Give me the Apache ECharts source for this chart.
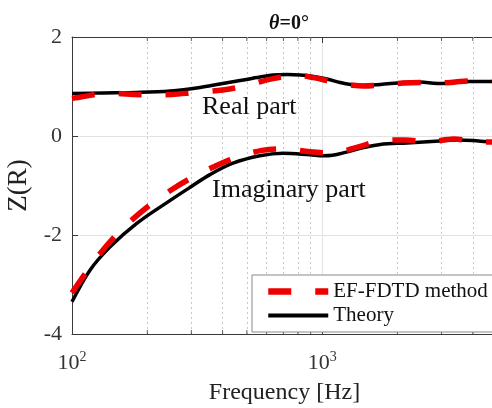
<!DOCTYPE html>
<html>
<head>
<meta charset="utf-8">
<style>
  html, body { margin: 0; padding: 0; background: #fff; }
  #chart { width: 492px; height: 408px; }
</style>
<script src="https://cdn.jsdelivr.net/npm/echarts@6/dist/echarts.min.js"></script>
</head>
<body>
<div id="chart"></div>
<script>
// Impedance Z(R) versus frequency: simulated (EF-FDTD) and theoretical curves
const FONT = '"Liberation Serif", "Times New Roman", serif';

// Real part, theory
const freqRealTheory = [100, 133, 182, 247, 325, 390, 470, 564, 636, 724, 817, 923, 1047, 1180, 1300, 1459, 1706, 2109, 2466, 2884, 3400, 3802, 4300, 5000];
const realTheory     = [0.86, 0.87, 0.88, 0.91, 0.98, 1.05, 1.12, 1.19, 1.23, 1.24, 1.23, 1.20, 1.15, 1.08, 1.04, 1.02, 1.04, 1.08, 1.09, 1.06, 1.08, 1.10, 1.10, 1.10];

// Real part, EF-FDTD
const freqRealFdtd = [100, 112, 125, 150, 175, 200, 250, 300, 350, 400, 470, 550, 636, 724, 817, 923, 1047, 1180, 1300, 1459, 1706, 2109, 2466, 2884, 3400, 3802, 4300, 5000];
const realFdtd     = [0.76, 0.80, 0.84, 0.86, 0.84, 0.83, 0.84, 0.87, 0.90, 0.93, 0.99, 1.08, 1.16, 1.21, 1.22, 1.18, 1.12, 1.06, 1.03, 1.01, 1.03, 1.07, 1.08, 1.07, 1.09, 1.11, 1.10, 1.10];

// Imaginary part, theory
const freqImagTheory = [100, 118, 142, 182, 247, 300, 356, 440, 564, 698, 894, 1009, 1100, 1240, 1450, 1706, 2180, 2951, 3467, 4000, 4786, 5000];
const imagTheory     = [-3.35, -2.71, -2.24, -1.76, -1.30, -1.02, -0.78, -0.55, -0.40, -0.35, -0.38, -0.40, -0.39, -0.33, -0.24, -0.17, -0.14, -0.10, -0.08, -0.09, -0.12, -0.12];

// Imaginary part, EF-FDTD
const freqImagFdtd = [100, 113, 127, 149, 175, 209, 251, 302, 373, 449, 575, 698, 894, 1096, 1396, 1706, 2148, 2655, 3357, 4169, 5000];
const imagFdtd     = [-3.17, -2.78, -2.43, -2.02, -1.68, -1.36, -1.08, -0.84, -0.61, -0.44, -0.29, -0.26, -0.32, -0.34, -0.22, -0.10, -0.08, -0.12, -0.06, -0.12, -0.12];

// Axis setup
const freqMin = 100, freqMax = 5000;
const zMin = -4, zMax = 2, zStep = 2;
const minorFreqs = [200, 300, 400, 500, 600, 700, 800, 900, 2000, 3000, 4000];

const legendFdtd = 'EF-FDTD method';
const legendTheory = 'Theory';

const pairs = (xs, ys) => xs.map((x, i) => [x, ys[i]]);

const RED = '#ee0000';
const BLACK = '#000000';
const AXIS = '#3a3a3a';

const fdtdLine = { color: RED, width: 5.5, type: [23, 24], cap: 'butt' };
const theoryLine = { color: BLACK, width: 3.5 };

const chart = echarts.init(document.getElementById('chart'), null, { renderer: 'canvas' });

// decade labels drawn as 10 with a raised exponent
const supFormatter = v => {
  const e = Math.log10(v);
  if (Math.abs(e - Math.round(e)) > 1e-6) return '';
  return '{b|10}{s|' + Math.round(e) + '}';
};

chart.setOption({
  animation: false,
  backgroundColor: '#fff',
  title: {
    text: '{i|θ}{b|=0°}',
    left: 284, top: 9, textAlign: 'center',
    textStyle: {
      rich: {
        i: { fontFamily: FONT, fontSize: 20, fontWeight: 'bold', fontStyle: 'italic', color: '#111' },
        b: { fontFamily: FONT, fontSize: 20, fontWeight: 'bold', color: '#111' }
      }
    }
  },
  grid: { left: 72, right: -5, top: 37, bottom: 74, containLabel: false, outerBoundsMode: 'none' },
  legend: {
    data: [
      { name: legendFdtd, lineStyle: { width: 6.5 } },
      { name: legendTheory, lineStyle: { width: 4 } }
    ],
    orient: 'vertical',
    left: 252, top: 275, z: 20,
    itemWidth: 60, itemHeight: 21, itemGap: 3,
    padding: [6, 40, 6, 13],
    backgroundColor: '#fff',
    borderColor: '#8a8a8a', borderWidth: 1, borderRadius: 0,
    itemStyle: { opacity: 0 },
    textStyle: { fontFamily: FONT, fontSize: 21, color: '#111' }
  },
  xAxis: [
    {
      type: 'log', logBase: 10, min: freqMin, max: freqMax,
      name: 'Frequency [Hz]', nameLocation: 'middle', nameGap: 47,
      nameTextStyle: { fontFamily: FONT, fontSize: 24, color: '#222' },
      axisLine: { show: true, onZero: false, lineStyle: { color: AXIS, width: 1 } },
      axisTick: { show: true, inside: true, length: 6, lineStyle: { color: AXIS } },
      axisLabel: {
        margin: 16, formatter: supFormatter, showMaxLabel: false,
        rich: {
          b: { fontFamily: FONT, fontSize: 22, color: '#333' },
          s: { fontFamily: FONT, fontSize: 14, color: '#333', padding: [0, 0, 12, 0] }
        }
      },
      splitLine: { show: true, lineStyle: { color: '#e2e2e2', width: 1 } }
    },
    {
      type: 'log', logBase: 10, min: freqMin, max: freqMax, position: 'top',
      axisLine: { show: true, onZero: false, lineStyle: { color: AXIS, width: 1 } },
      axisTick: { show: true, inside: true, length: 6, lineStyle: { color: AXIS } },
      axisLabel: { show: false },
      splitLine: { show: false }
    }
  ],
  yAxis: {
    type: 'value', min: zMin, max: zMax, interval: zStep,
    name: 'Z(R)', nameLocation: 'middle', nameGap: 29,
    nameTextStyle: { fontFamily: FONT, fontSize: 27, color: '#222' },
    axisLine: { show: true, lineStyle: { color: AXIS, width: 1 } },
    axisTick: { show: true, inside: true, length: 6, lineStyle: { color: AXIS } },
    axisLabel: { margin: 10, fontFamily: FONT, fontSize: 22, color: '#333' },
    splitLine: { show: true, lineStyle: { color: '#e2e2e2', width: 1 } }
  },
  graphic: [
    { type: 'text', left: 202, top: 94, style: { text: 'Real part', font: '26px ' + FONT, fill: '#111' }, z: 50 },
    { type: 'text', left: 212, top: 177, style: { text: 'Imaginary part', font: '26px ' + FONT, fill: '#111' }, z: 50 }
  ],
  series: [
    {
      // minor grid lines and minor ticks on both frequency axes
      type: 'scatter', name: 'minorBottom', silent: true, z: 1,
      data: minorFreqs.map(f => [f, zMin]),
      symbol: 'rect', symbolSize: [1, 4], symbolOffset: [0, -2],
      itemStyle: { color: AXIS },
      markLine: {
        silent: true, symbol: 'none', label: { show: false }, z: 1,
        lineStyle: { color: '#c8c8c8', width: 1, type: [2, 3] },
        data: minorFreqs.map(f => ({ xAxis: f }))
      }
    },
    {
      type: 'scatter', name: 'minorTop', silent: true, z: 1,
      data: minorFreqs.map(f => [f, zMax]),
      symbol: 'rect', symbolSize: [1, 4], symbolOffset: [0, 2],
      itemStyle: { color: AXIS }
    },
    {
      name: legendTheory, type: 'line', z: 3,
      data: pairs(freqRealTheory, realTheory),
      smooth: 0.35, symbol: 'none', lineStyle: theoryLine, itemStyle: { color: BLACK }
    },
    {
      name: legendTheory, type: 'line', z: 3,
      data: pairs(freqImagTheory, imagTheory),
      smooth: 0.35, symbol: 'none', lineStyle: theoryLine, itemStyle: { color: BLACK }
    },
    {
      name: legendFdtd, type: 'line', z: 4,
      data: pairs(freqRealFdtd, realFdtd),
      smooth: 0.35, symbol: 'none', lineStyle: fdtdLine, itemStyle: { color: RED }
    },
    {
      name: legendFdtd, type: 'line', z: 4,
      data: pairs(freqImagFdtd, imagFdtd),
      smooth: 0.35, symbol: 'none', lineStyle: fdtdLine, itemStyle: { color: RED }
    }
  ]
});
</script>
</body>
</html>
